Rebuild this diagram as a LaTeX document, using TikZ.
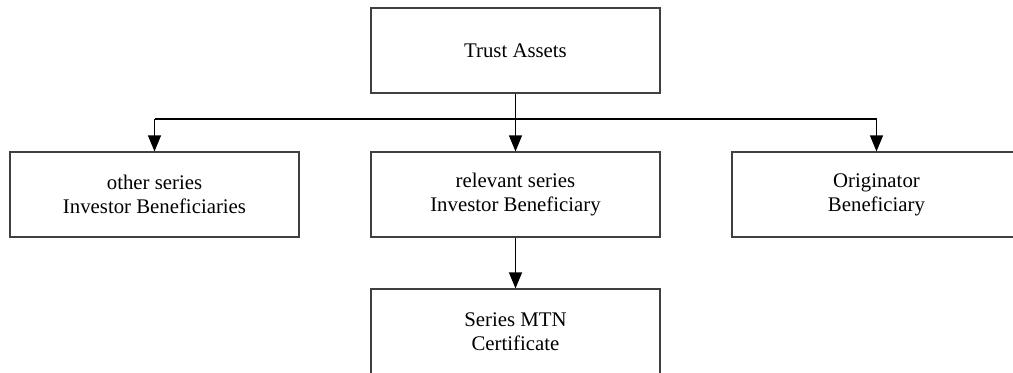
\documentclass[tikz,border=0pt]{standalone}
\usepackage{fontspec}
\setmainfont{Liberation Serif}
\usetikzlibrary{arrows.meta}

\begin{document}
\begin{tikzpicture}[x=0.5pt, y=-0.5pt,
        box/.style={draw=black!75, line width=0.6pt, minimum width=144.5pt, minimum height=42.5pt,
            align=center, font=\fontsize{10.4}{12}\selectfont},
        arr/.style={-{Triangle[length=8pt, width=6.5pt]}}]
        \useasboundingbox (0, 0) rectangle (1013, 372);

        \node[box] at (515.5, 50.5)   (trust) {Trust Assets};
        \node[box] at (154.5, 194.5)  (other) {other series\\Investor Beneficiaries};
        \node[box] at (515.5, 194.5)  (rel)   {relevant series\\Investor Beneficiary};
        \node[box] at (876.5, 194.5)  (orig)  {Originator\\Beneficiary};
        \node[box] at (515.5, 331.5)  (mtn)   {Series MTN\\Certificate};

        \coordinate (left)  at (154.5, 119);
        \coordinate (mid)   at (515.5, 119);
        \coordinate (right) at (876.5, 119);

        \draw[line width=0.6pt] (trust) -- (mid);
        \draw[line width=0.6pt] (left) -- (right);
        \draw[line width=0.6pt, arr] (left) -- (other);
        \draw[line width=0.6pt, arr] (mid) -- (rel);
        \draw[line width=0.6pt, arr] (right) -- (orig);
        \draw[line width=0.6pt, arr] (rel) -- (mtn);
    \end{tikzpicture}
\end{document}
